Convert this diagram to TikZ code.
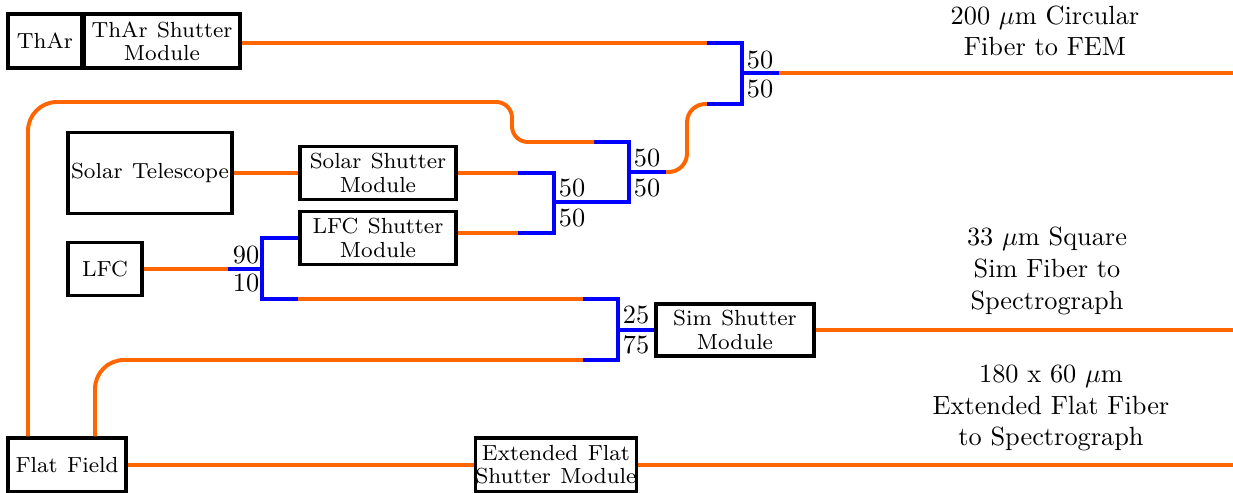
\documentclass[tikz,border=0pt]{standalone}
\definecolor{fib}{RGB}{255,102,0}
\newcommand\myboxfont{\fontsize{8.3}{8.8}\selectfont\spaceskip=3.6pt plus 1pt minus 0.5pt\relax}
\begin{document}
\begin{tikzpicture}[x=0.38pt,y=-0.38pt,
  box/.style 2 args={draw, line width=1.2pt, minimum width=#1*0.38pt, minimum height=#2*0.38pt, inner sep=0pt, align=center, font=\myboxfont},
  ofib/.style={draw=fib, line width=1.5pt},
  bsp/.style={draw=blue, line width=1.6pt},
  lbl/.style={inner sep=0pt, font=\normalsize},
  rlbl/.style={inner sep=0pt, align=center, font=\normalsize}]
\useasboundingbox (0,0) rectangle (1233,493);
% boxes
\node[box={74}{54}] (thar) at (45,41) {ThAr};
\node[box={156}{54}] (tharsh) at (162,41) {ThAr Shutter\\Module};
\node[box={164}{81}] (sol) at (150,173) {Solar Telescope};
\node[box={156}{53}] (solsh) at (378,173) {Solar Shutter\\Module};
\node[box={156}{53}] (lfcsh) at (378,238) {LFC Shutter\\Module};
\node[box={74}{53}] (lfc) at (105,269) {LFC};
\node[box={158}{52}] (simsh) at (735,330) {Sim Shutter\\Module};
\node[box={118}{54}] (ff) at (67,465) {Flat Field};
\node[box={158}{54}] (efsh) at (556,465) {Extended Flat\\Shutter Module};
% coordinates for splitters
\coordinate (s1a) at (707,43);
\coordinate (s1b) at (707,104);
\coordinate (s1o) at (779,73);
\coordinate (s2a) at (594,142);
\coordinate (s2o) at (666,172);
\coordinate (s3a) at (518,173);
\coordinate (s3b) at (518,233);
\coordinate (s4i) at (228,269);
\coordinate (s4b) at (298,299);
\coordinate (s5a) at (583,299);
\coordinate (s5b) at (583,360);
\coordinate (e1) at (1233,73);
\coordinate (e2) at (1233,330);
\coordinate (e3) at (1233,465);
\coordinate (ffx1) at (28,0);
\coordinate (ffx2) at (95,0);
% splitters (blue)
\draw[bsp] (s1a) -| (742,104) -- (s1b);
\draw[bsp] (742,73) -- (s1o);
\draw[bsp] (s2a) -| (629,202) -- (554,202);
\draw[bsp] (629,172) -- (s2o);
\draw[bsp] (s3a) -| (554,233) -- (s3b);
\draw[bsp] (s4i) -- (262,269);
\draw[bsp] (lfcsh.west) -| (262,299) -- (s4b);
\draw[bsp] (s5a) -| (618,360) -- (s5b);
\draw[bsp] (618,330) -- (simsh.west);
% fibres (orange)
\draw[ofib] (tharsh.east |- s1a) -- (s1a);
\draw[ofib] (s1o) -- (e1);
\draw[ofib] [rounded corners=11pt] (ff.north -| ffx1) -- (28,102) [rounded corners=6pt] -- (512,102) -- (512,142) -- (s2a);
\draw[ofib] [rounded corners=7pt] (s2o) -- (687,172) |- (s1b);
\draw[ofib] (sol.east) -- (solsh.west);
\draw[ofib] (solsh.east) -- (s3a);
\draw[ofib] (lfcsh.east |- s3b) -- (s3b);
\draw[ofib] (lfc.east) -- (s4i);
\draw[ofib] (s4b) -- (s5a);
\draw[ofib] (s5b) [rounded corners=11pt] -| (ff.north -| ffx2);
\draw[ofib] (simsh.east) -- (e2);
\draw[ofib] (ff.east) -- (efsh.west);
\draw[ofib] (efsh.east) -- (e3);
% split ratio labels
\node[lbl] (l1a) at (760,60) {50};
\node[lbl] (l1b) at (760,89) {50};
\node[lbl] (l2a) at (647,158) {50};
\node[lbl] (l2b) at (647,188) {50};
\node[lbl] (l3a) at (572,188) {50};
\node[lbl] (l3b) at (572,218) {50};
\node[lbl] (l4a) at (246,255) {90};
\node[lbl] (l4b) at (246,283) {10};
\node[lbl] (l5a) at (636,315) {25};
\node[lbl] (l5b) at (636,345) {75};
% output labels
\node[rlbl] (o1) at (1045,31) {200 $\mu$m Circular\\Fiber to FEM};
\node[rlbl] (o2) at (1047,271) {33 $\mu$m Square\\Sim Fiber to\\Spectrograph};
\node[rlbl] (o3) at (1051,408) {180 x 60 $\mu$m\\Extended Flat Fiber\\to Spectrograph};
\end{tikzpicture}
\end{document}
